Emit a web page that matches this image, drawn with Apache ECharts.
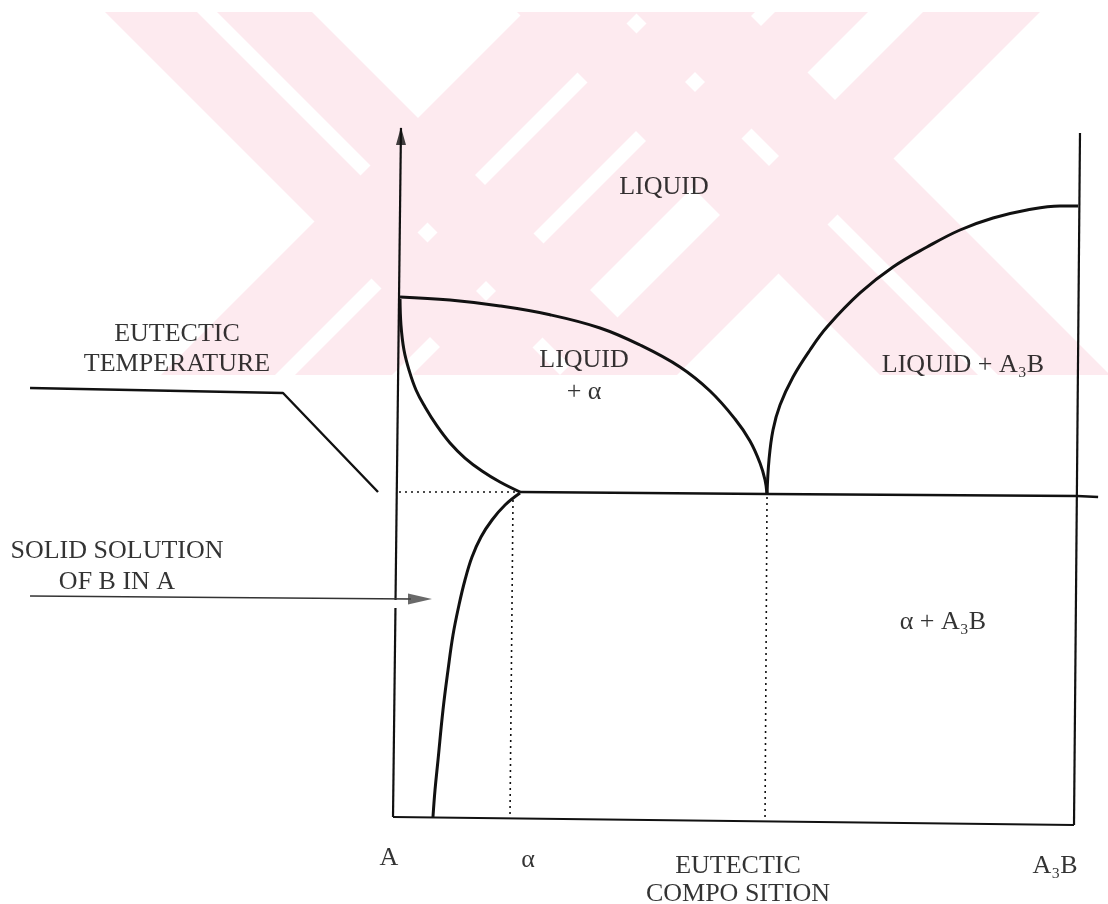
<!DOCTYPE html>
<html><head><meta charset="utf-8">
<script src="https://cdn.jsdelivr.net/npm/echarts@6/dist/echarts.min.js"></script>
<style>html,body{margin:0;padding:0;background:#fff}#chart{width:1108px;height:904px}</style>
</head><body><div id="chart"></div>
<script>
// Composition: 0 = pure A, 100 = A3B.  Temperature: arbitrary units (0 = base line).
const liquidusA = [[0.59,75.58],[7.93,75.14],[15.27,74.28],[22.61,73.01],[29.96,71.10],[35.83,68.64],[41.70,65.46],[46.11,61.99],[49.78,57.95],[51.98,54.77],[53.45,51.59],[54.19,49.13],[54.48,47.11]];
const solidusA = [[0.59,75.29],[0.73,71.53],[1.17,67.92],[1.91,65.03],[2.94,62.14],[4.26,59.68],[6.02,56.94],[7.93,54.48],[10.13,52.31],[12.63,50.43],[15.27,48.84],[18.21,47.40]];
const solvusA = [[18.21,47.25],[16.01,45.52],[14.10,43.35],[12.48,40.90],[11.16,38.01],[10.13,34.68],[9.25,31.07],[8.37,26.73],[7.64,21.68],[6.90,15.90],[6.17,8.67],[5.73,4.34],[5.43,0.43]];
const liquidusB = [[54.48,47.11],[54.77,52.02],[55.36,56.36],[56.39,59.97],[58.30,64.02],[60.79,67.92],[63.29,71.24],[68.14,76.16],[72.98,79.91],[77.97,82.80],[82.82,85.26],[87.67,86.99],[92.66,88.15],[97.50,88.73],[100.15,88.73]];
const eutecticLine = [[18.21,47.40],[54.48,47.11],[100,46.82],[103.1,46.68]];
const axisALower = [[-0.44,0.43],[-0.08,30.64]];
const axisAUpper = [[-0.07,31.79],[0.73,100]];
const baseLine = [[-0.44,0.43],[99.56,-0.72]];
const axisB = [[100.44,99.28],[99.56,-0.72]];
const tempGuide = [[0.44,47.40],[17.5,47.40]];
const alphaGuide = [[17.18,46.24],[16.74,0.43]];
const eutecticGuide = [[54.48,46.68],[54.19,0.43]];
const tempLeader = [[-53.74,62.43],[-16.59,61.71],[-2.64,47.40]];
const solidLeader = [[-53.74,32.37],[2.2,31.94]];
const compositionTicks = ['A','α','EUTECTIC\nCOMPO SITION','A₃B'];
const regionNames = ['LIQUID','LIQUID\n+ α','LIQUID + A₃B','α + A₃B'];
const calloutNames = ['EUTECTIC\nTEMPERATURE','SOLID SOLUTION\nOF B IN A'];

const INK = '#111';
function ln(data, width, extra) {
  return Object.assign({type:'line', data:data, symbol:'none', clip:false, silent:true,
    animation:false, z:3, lineStyle:{color:INK, width:width}}, extra || {});
}
function dotted(data) {
  return ln(data, 1.6, {lineStyle:{color:INK, width:1.6, type:[2,4]}});
}
// watermark bands (decorative background)
const PINK = '#fdeaef';
function back(a,b){return [[a+12,12],[b+12,12],[b+375,375],[a+375,375]];}
function fwd(a,b){return [[a-12,12],[b-12,12],[b-375,375],[a-375,375]];}
const wm = [back(93,185), back(205,300), fwd(536,650), fwd(670,767),
            back(505,603), back(623,735), fwd(787,880), fwd(935,1052)];

const labelBase = {show:true, position:'inside', color:'#000', fontFamily:'Liberation Serif, DejaVu Serif, serif', fontSize:26};
function textPts(items){
  return {type:'scatter', clip:false, silent:true, animation:false, symbolSize:1,
    itemStyle:{color:'rgba(255,255,255,0)'}, z:5, label:labelBase,
    data: items.map(function(it){return {value:[it[0],it[1]], label:{formatter:it[2], lineHeight:it[3]||30}};})};
}

const chart = echarts.init(document.getElementById('chart'), null, {renderer:'canvas'});
chart.setOption({
  backgroundColor:'#ffffff',
  animation:false,
  grid:{left:0, right:0, top:0, bottom:0},
  xAxis:{type:'value', min:-58.1498, max:104.5521, show:false},
  yAxis:{type:'value', min:-12.1387, max:118.4971, show:false},
  graphic: wm.map(function(p){return {type:'polygon', shape:{points:p}, style:{fill:PINK}, z:0, silent:true};}),
  series:[
    ln(axisALower, 2.2), ln(axisAUpper, 2.2), ln(baseLine, 2.2), ln(axisB, 2.2),
    ln(liquidusA, 3, {smooth:0.4}), ln(solidusA, 3, {smooth:0.4}), ln(solvusA, 3, {smooth:0.4}),
    ln(liquidusB, 3, {smooth:0.4}), ln(eutecticLine, 2.4),
    dotted(tempGuide), dotted(alphaGuide), dotted(eutecticGuide),
    ln(tempLeader, 2.4), ln(solidLeader, 1.6, {lineStyle:{color:'#333', width:1.6}}),
    {type:'scatter', clip:false, silent:true, animation:false, z:4,
      data:[{value:[0.73,98.84], symbol:'triangle', symbolSize:[10,18], itemStyle:{color:INK}},
            {value:[3.52,31.94], symbol:'triangle', symbolSize:[11,24], symbolRotate:-90, itemStyle:{color:'#444'}}]},
    textPts([
      [39.35,91.47,regionNames[0]],
      [27.61,64.16,regionNames[1],32],
      [83.26,65.75,regionNames[2]],
      [80.32,28.61,regionNames[3]],
      [-32.16,68.06,calloutNames[0],30],
      [-40.97,36.56,calloutNames[1],31],
      [-1.03,-5.49,compositionTicks[0]],
      [19.38,-5.78,compositionTicks[1]],
      [50.22,-8.67,compositionTicks[2],28],
      [96.77,-6.65,compositionTicks[3]]
    ])
  ]
});
</script></body></html>
